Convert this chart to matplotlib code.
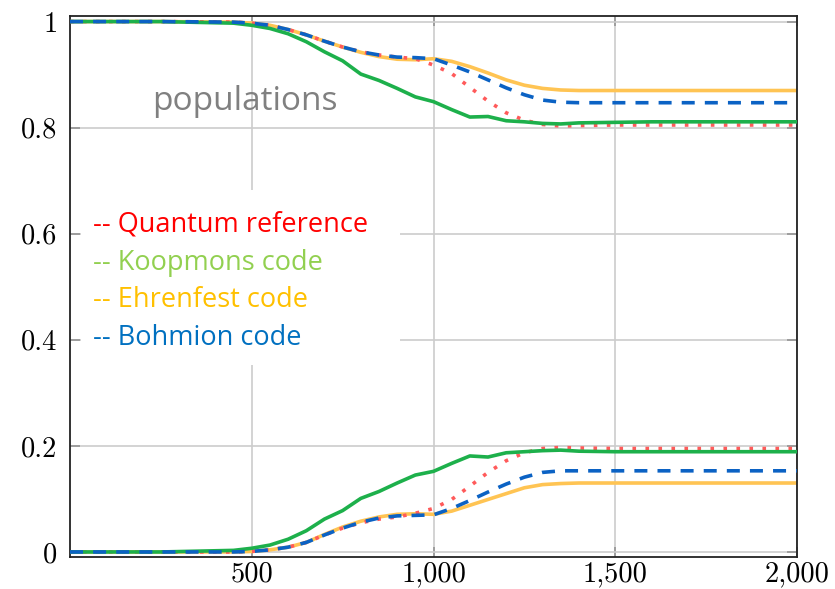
import matplotlib
matplotlib.use("Agg")
import matplotlib.pyplot as plt
from matplotlib.patches import Rectangle
from matplotlib.ticker import FuncFormatter, FixedLocator

# ---------------- data ----------------
t = [0, 250, 450, 500, 550, 600, 650, 700, 750, 800, 850, 900, 950, 1000,
     1050, 1100, 1150, 1200, 1250, 1300, 1350, 1400, 1500, 1600, 1800, 2000]

quantum_up = [1, 1, 0.999, 0.997, 0.993, 0.985, 0.975, 0.963, 0.952, 0.943, 0.937, 0.933,
              0.930, 0.918, 0.902, 0.876, 0.850, 0.828, 0.814, 0.806, 0.803, 0.804,
              0.805, 0.805, 0.805, 0.805]
koopmons_up = [1, 1, 0.997, 0.993, 0.987, 0.977, 0.962, 0.943, 0.926, 0.901, 0.889, 0.874,
               0.858, 0.849, 0.834, 0.820, 0.821, 0.813, 0.811, 0.808, 0.807, 0.809,
               0.810, 0.811, 0.811, 0.811]
ehrenfest_up = [1, 1, 0.999, 0.997, 0.993, 0.985, 0.975, 0.963, 0.952, 0.942, 0.934, 0.929,
                0.928, 0.930, 0.925, 0.915, 0.903, 0.890, 0.880, 0.874, 0.871, 0.870,
                0.870, 0.870, 0.870, 0.870]
bohmion_up = [1, 1, 0.999, 0.997, 0.993, 0.985, 0.975, 0.963, 0.952, 0.943, 0.937, 0.933,
              0.932, 0.930, 0.918, 0.905, 0.890, 0.875, 0.862, 0.852, 0.848, 0.847,
              0.847, 0.847, 0.847, 0.847]

quantum_lo = [0, 0, 0.0, 0.001, 0.004, 0.009, 0.018, 0.032, 0.045, 0.055, 0.062, 0.066,
              0.073, 0.082, 0.099, 0.124, 0.150, 0.172, 0.187, 0.195, 0.197, 0.196,
              0.195, 0.195, 0.195, 0.195]
koopmons_lo = [0, 0, 0.003, 0.007, 0.013, 0.024, 0.040, 0.062, 0.078, 0.101, 0.114, 0.130,
               0.145, 0.152, 0.167, 0.181, 0.179, 0.187, 0.189, 0.191, 0.192, 0.190,
               0.189, 0.189, 0.189, 0.189]
ehrenfest_lo = [0, 0, 0.0, 0.001, 0.004, 0.009, 0.018, 0.033, 0.047, 0.058, 0.066, 0.071,
                0.072, 0.071, 0.077, 0.088, 0.099, 0.110, 0.121, 0.127, 0.129, 0.130,
                0.130, 0.130, 0.130, 0.130]
bohmion_lo = [0, 0, 0.0, 0.001, 0.004, 0.009, 0.018, 0.032, 0.045, 0.056, 0.064, 0.068,
              0.069, 0.070, 0.082, 0.097, 0.113, 0.128, 0.141, 0.150, 0.153, 0.153,
              0.153, 0.153, 0.153, 0.153]

x_ticks = [500, 1000, 1500, 2000]
y_ticks = [0, 0.2, 0.4, 0.6, 0.8, 1]
legend_labels = ["-- Quantum reference", "-- Koopmons code", "-- Ehrenfest code", "-- Bohmion code"]
legend_colors = ["#FF0000", "#92D050", "#FFC000", "#0070C0"]
panel_label = "populations"

# ---------------- figure ----------------
plt.rcParams["axes.formatter.use_mathtext"] = True
fig = plt.figure(figsize=(8.35, 5.89), dpi=100)
ax = fig.add_axes([70 / 835, 1 - 557 / 589, 727 / 835, 541 / 589])

c_red = "#FF5A5A"
c_green = "#1DB04B"
c_orange = "#FFC453"
c_blue = "#0B62C4"
lw = 2.6

for up, lo, c, ls, z in [
    (ehrenfest_up, ehrenfest_lo, c_orange, "-", 2),
    (quantum_up, quantum_lo, c_red, (0, (1.0, 2.6)), 3),
    (koopmons_up, koopmons_lo, c_green, "-", 4),
    (bohmion_up, bohmion_lo, c_blue, (0, (3.6, 2.8)), 5),
]:
    ax.plot(t, up, color=c, ls=ls, lw=lw, zorder=z)
    ax.plot(t, lo, color=c, ls=ls, lw=lw, zorder=z)

ax.set_xlim(0, 2000)
ax.set_ylim(-0.0095, 1.0105)
ax.set_axisbelow(True)
ax.grid(True, color="#cccccc", lw=1.2)

ax.xaxis.set_major_locator(FixedLocator(x_ticks))
ax.yaxis.set_major_locator(FixedLocator(y_ticks))
ax.xaxis.set_major_formatter(FuncFormatter(lambda v, p: f"{int(v):,}"))
ax.yaxis.set_major_formatter(FuncFormatter(lambda v, p: f"{v:g}"))
ax.tick_params(direction="in", length=7, width=1.3, color="#999999",
               top=True, right=True, labelsize=20.5)
ax.tick_params(axis="y", pad=9)
ax.tick_params(axis="x", pad=3)
for lab in ax.get_xticklabels() + ax.get_yticklabels():
    lab.set_fontfamily("cmr10")
for s in ax.spines.values():
    s.set_color("#222222")
    s.set_linewidth(1.3)

# white box behind the legend text
ax.add_patch(Rectangle((30, 0.352), 878, 0.33, facecolor="white", edgecolor="none", zorder=1))

ax.text(226, 0.833, panel_label, color="#808080", fontsize=24, family="Open Sans",
        va="baseline", ha="left", zorder=6)

ys = [0.604, 0.531, 0.462, 0.390]
for lab, col, yy in zip(legend_labels, legend_colors, ys):
    ax.text(63, yy, lab, color=col, fontsize=19.5, family="Open Sans",
            va="baseline", ha="left", zorder=6)

fig.savefig("out.png", dpi=100)
